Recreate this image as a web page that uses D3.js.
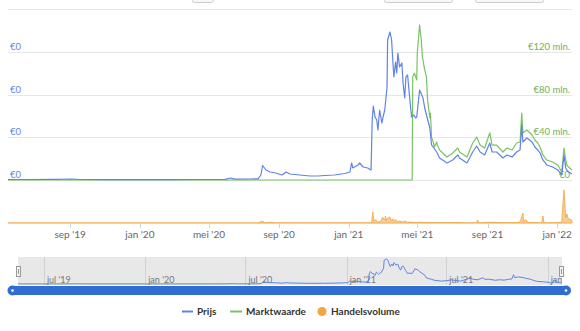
<!DOCTYPE html>
<html><head><meta charset="utf-8">
<script src="https://cdn.jsdelivr.net/npm/d3@7"></script>
<style>
html,body{margin:0;padding:0;background:#fff;}
svg{display:block;font-family:Lato,"Open Sans",sans-serif;}
</style></head>
<body><svg id="c" width="580" height="331"></svg>
<script>
// ---------- DATA ----------
const priceDates = ["2019-05-15","2019-06-22","2019-08-05","2019-09-04","2019-09-18","2019-11-09","2020-01-01","2020-02-22","2020-04-15","2020-05-29","2020-06-08","2020-06-15","2020-07-12","2020-07-26","2020-07-31","2020-08-03","2020-08-09","2020-08-16","2020-08-26","2020-09-06","2020-09-13","2020-09-20","2020-10-07","2020-10-25","2020-11-08","2020-11-20","2020-12-07","2020-12-25","2021-01-03","2021-01-06","2021-01-08","2021-01-17","2021-01-20","2021-01-26","2021-02-03","2021-02-09","2021-02-11","2021-02-13","2021-02-16","2021-02-19","2021-02-21","2021-02-24","2021-02-28","2021-03-02","2021-03-05","2021-03-09","2021-03-10","2021-03-14","2021-03-17","2021-03-19","2021-03-21","2021-03-24","2021-03-26","2021-03-28","2021-03-31","2021-04-04","2021-04-06","2021-04-09","2021-04-11","2021-04-14","2021-04-18","2021-04-21","2021-04-25","2021-04-28","2021-04-30","2021-05-05","2021-05-11","2021-05-14","2021-05-18","2021-05-23","2021-05-26","2021-05-30","2021-06-04","2021-06-09","2021-06-22","2021-07-02","2021-07-11","2021-07-14","2021-07-27","2021-08-06","2021-08-13","2021-08-19","2021-08-27","2021-09-05","2021-09-09","2021-09-17","2021-09-28","2021-10-05","2021-10-14","2021-10-22","2021-10-28","2021-10-31","2021-11-02","2021-11-09","2021-11-18","2021-11-23","2021-11-28","2021-12-02","2021-12-07","2021-12-14","2021-12-24","2022-01-02","2022-01-09","2022-01-13","2022-01-16","2022-01-18","2022-01-21","2022-01-27"];
const priceValues = [0.000012,0.000012,0.000014,0.000023,0.000012,0.000009,0.000009,0.000009,0.000012,0.000016,0.000047,0.000019,0.000023,0.000028,0.000117,0.000339,0.000234,0.000187,0.000164,0.000117,0.000187,0.000140,0.000117,0.000094,0.000094,0.000105,0.000117,0.000152,0.000187,0.000398,0.000281,0.000351,0.000398,0.000304,0.000281,0.000234,0.001404,0.001731,0.001474,0.001404,0.001170,0.001637,0.001333,0.001474,0.001637,0.002175,0.003275,0.003462,0.003275,0.002807,0.002409,0.002760,0.002503,0.002971,0.002643,0.002737,0.002269,0.001918,0.002409,0.002456,0.001871,0.001474,0.001520,0.001450,0.001474,0.002105,0.001918,0.001684,0.001474,0.001216,0.000819,0.000749,0.000655,0.000515,0.000398,0.000468,0.000585,0.000515,0.000398,0.000655,0.000795,0.000655,0.000585,0.000866,0.000655,0.000655,0.000515,0.000585,0.000538,0.000655,0.000702,0.001287,0.000889,0.000982,0.000889,0.000772,0.000702,0.000632,0.000468,0.000351,0.000304,0.000234,0.000117,0.000585,0.000281,0.000234,0.000187,0.000140];

const capDates = ["2019-05-15","2021-04-22","2021-04-23","2021-04-26","2021-04-30","2021-05-01","2021-05-05","2021-05-08","2021-05-10","2021-05-14","2021-05-17","2021-05-19","2021-05-23","2021-05-24","2021-05-26","2021-05-28","2021-05-31","2021-06-04","2021-06-05","2021-06-09","2021-06-22","2021-07-02","2021-07-11","2021-07-14","2021-07-27","2021-08-06","2021-08-13","2021-08-19","2021-08-27","2021-09-05","2021-09-09","2021-09-17","2021-09-28","2021-10-05","2021-10-14","2021-10-22","2021-10-28","2021-10-31","2021-11-02","2021-11-09","2021-11-18","2021-11-23","2021-11-28","2021-12-02","2021-12-07","2021-12-14","2021-12-24","2022-01-02","2022-01-09","2022-01-13","2022-01-16","2022-01-18","2022-01-21","2022-01-27"];
const capValues = [0,0,96.4,100,93.6,118.8,145,131,115,103,96.4,74.9,58,62.7,39.3,37.4,30.9,35.6,32.7,28.1,21.5,25.3,29.9,26.2,21.5,34.6,40.2,32.7,29.9,44,32.7,32.7,26.2,29.9,28.1,34.6,35.6,62.7,44,46.8,42.1,37.4,34.6,30.9,23.4,18.7,16.8,14,7.5,29.9,18.7,14,12.2,9.4];

const volDates = ["2019-05-15","2020-07-25","2020-08-03","2020-08-07","2020-08-19","2020-08-24","2020-12-25","2021-02-10","2021-02-12","2021-02-14","2021-02-17","2021-02-21","2021-02-26","2021-03-01","2021-03-05","2021-03-06","2021-03-08","2021-03-10","2021-03-14","2021-03-17","2021-03-19","2021-03-22","2021-03-24","2021-03-28","2021-03-31","2021-04-06","2021-04-09","2021-04-14","2021-04-18","2021-04-26","2021-05-05","2021-05-14","2021-06-09","2021-07-14","2021-07-18","2021-08-13","2021-08-15","2021-08-17","2021-09-05","2021-10-01","2021-10-26","2021-10-29","2021-11-02","2021-11-03","2021-11-07","2021-11-11","2021-12-05","2021-12-07","2021-12-09","2021-12-28","2022-01-09","2022-01-11","2022-01-13","2022-01-14","2022-01-16","2022-01-18","2022-01-21","2022-01-23","2022-01-27"];
const volValues = [0.003,0.003,0.11,0.01,0.05,0.01,0.01,0.01,0.65,0.1,0.2,0.05,0.1,0.35,0.15,0.41,0.15,0.3,0.35,0.12,0.25,0.1,0.2,0.08,0.12,0.06,0.12,0.04,0.06,0.03,0.05,0.03,0.02,0.03,0.01,0.01,0.18,0.01,0.05,0.02,0.03,0.15,0.59,0.1,0.2,0.03,0.01,0.41,0.01,0.02,0.05,1.06,1.94,1.41,0.3,0.53,0.2,0.24,0.15];

const xTickDates = ["2019-09-01","2020-01-01","2020-05-01","2020-09-01","2021-01-01","2021-05-01","2021-09-01","2022-01-01"];
const xTickLabels = ["sep '19","jan '20","mei '20","sep '20","jan '21","mei '21","sep '21","jan '22"];
const navTickDates = ["2019-07-01","2020-01-01","2020-07-01","2021-01-01","2021-07-01","2022-01-01"];
const navTickLabels = ["jul '19","jan '20","jul '20","jan '21","jul '21","jan '22"];
const capTicks = [0,40,80,120,160];
const capTickLabels = ["€0","€40 mln.","€80 mln.","€120 mln.",""];
const priceTicks = [0,0.001,0.002,0.003];
const seriesNames = ["Prijs","Marktwaarde","Handelsvolume"];

// ---------- DRAW ----------
const P = d3.utcParse("%Y-%m-%d");
const BLUE="#5f84e6", GREEN="#79c266", ORANGE="#f2a540";
const svg = d3.select("#c");
const start = P("2019-05-15"), end = P("2022-01-27");
const x = d3.scaleUtc().domain([start,end]).range([8,572]);
const yCap = d3.scaleLinear().domain([0,160]).range([180,9]);
const yPrice = d3.scaleLinear().domain([0,0.004]).range([180,9]);
const yVol = d3.scaleLinear().domain([0,2]).range([223,189]);

// top range-selector remnants
[[192,21],[384,68],[475,68]].forEach(([bx,bw])=>{
  svg.append("rect").attr("x",bx+0.5).attr("y",-14).attr("width",bw).attr("height",16.5)
    .attr("rx",2).attr("fill","#f7f7f7").attr("stroke","#cccccc");
});

// gridlines
svg.append("g").selectAll("line").data(capTicks).join("line")
  .attr("x1",8).attr("x2",572)
  .attr("y1",d=>Math.round(yCap(d))+0.5).attr("y2",d=>Math.round(yCap(d))+0.5)
  .attr("stroke","#e6e6e6");

// right labels
svg.append("g").selectAll("text").data(capTicks).join("text")
  .attr("x",570).attr("y",d=>yCap(d)-2).attr("text-anchor","end")
  .attr("font-size",9.5).attr("fill","#6fb35d").text((d,i)=>capTickLabels[i]);
// left labels
svg.append("g").selectAll("text").data(priceTicks).join("text")
  .attr("x",10).attr("y",d=>yPrice(d)-2)
  .attr("font-size",9.5).attr("fill",BLUE).text(d=>"€"+d3.format(".0f")(d));

// volume
const vol = volDates.map((d,i)=>({d:P(d),v:volValues[i]}));
svg.append("path").datum(vol)
  .attr("d",d3.area().x(d=>x(d.d)).y0(yVol(0)).y1(d=>yVol(d.v)))
  .attr("fill",ORANGE).attr("fill-opacity",0.55).attr("stroke",ORANGE).attr("stroke-width",0.8);

// x axis line
svg.append("line").attr("x1",8).attr("x2",572).attr("y1",223.5).attr("y2",223.5).attr("stroke","#ccd6eb");
const xt = xTickDates.map(P);
svg.append("g").selectAll("line").data(xt).join("line")
  .attr("x1",d=>Math.round(x(d))+0.5).attr("x2",d=>Math.round(x(d))+0.5)
  .attr("y1",223).attr("y2",228).attr("stroke","#ccd6eb");
svg.append("g").selectAll("text").data(xt).join("text")
  .attr("x",d=>x(d)).attr("y",238).attr("text-anchor","middle")
  .attr("font-size",10).attr("fill","#666").text((d,i)=>xTickLabels[i]);

// market cap line
const cap = capDates.map((d,i)=>({d:P(d),v:capValues[i]}));
svg.append("path").datum(cap)
  .attr("d",d3.line().x(d=>x(d.d)).y(d=>yCap(d.v)))
  .attr("fill","none").attr("stroke",GREEN).attr("stroke-width",1.2).attr("stroke-linejoin","round");
// price line
const price = priceDates.map((d,i)=>({d:P(d),v:priceValues[i]}));
svg.append("path").datum(price)
  .attr("d",d3.line().x(d=>x(d.d)).y(d=>yPrice(d.v)))
  .attr("fill","none").attr("stroke",BLUE).attr("stroke-width",1.2).attr("stroke-linejoin","round");

// navigator
const xN = d3.scaleUtc().domain([start,end]).range([18,562]);
const yN = d3.scaleLinear().domain([0,d3.max(priceValues)]).range([284,259]);
svg.append("defs").append("clipPath").attr("id","navclip")
  .append("rect").attr("x",18).attr("y",257).attr("width",544).attr("height",28);
svg.append("rect").attr("x",18).attr("y",257).attr("width",544).attr("height",28).attr("fill","#e8e8e8");
const nt = navTickDates.map(P);
const ng = svg.append("g").attr("clip-path","url(#navclip)");
ng.selectAll("line").data(nt).join("line")
  .attr("x1",d=>Math.round(xN(d))+0.5).attr("x2",d=>Math.round(xN(d))+0.5)
  .attr("y1",257).attr("y2",285).attr("stroke","#d2d2d2");
ng.selectAll("text").data(nt).join("text")
  .attr("x",d=>xN(d)+3).attr("y",283).attr("font-size",9).attr("fill","#777")
  .text((d,i)=>navTickLabels[i]);
ng.append("path").datum(price)
  .attr("d",d3.line().x(d=>xN(d.d)).y(d=>yN(d.v)))
  .attr("fill","none").attr("stroke",BLUE).attr("stroke-width",1);
// handles
[16,559].forEach(hx=>{
  svg.append("rect").attr("x",hx+0.5).attr("y",266.5).attr("width",4).attr("height",10)
    .attr("fill","#f2f2f2").attr("stroke","#999");
  svg.append("line").attr("x1",hx+2.5).attr("x2",hx+2.5).attr("y1",269).attr("y2",274).attr("stroke","#999");
});
// scrollbar
svg.append("rect").attr("x",12).attr("y",286).attr("width",554).attr("height",9).attr("fill","#2f6dd0");
[12.5,566].forEach(cx=>{
  svg.append("circle").attr("cx",cx).attr("cy",290.5).attr("r",5).attr("fill","#2f6dd0");
  svg.append("circle").attr("cx",cx).attr("cy",290.5).attr("r",1.3).attr("fill","#fff");
});

// legend
const lg = svg.append("g").attr("font-size",10).attr("font-weight","bold").attr("fill","#333");
lg.append("line").attr("x1",182).attr("x2",193).attr("y1",311.5).attr("y2",311.5).attr("stroke",BLUE).attr("stroke-width",2);
lg.append("text").attr("x",197).attr("y",315).text(seriesNames[0]);
lg.append("line").attr("x1",230).attr("x2",242).attr("y1",311.5).attr("y2",311.5).attr("stroke",GREEN).attr("stroke-width",2);
lg.append("text").attr("x",246).attr("y",315).text(seriesNames[1]);
lg.append("circle").attr("cx",322).attr("cy",311.5).attr("r",4.5).attr("fill",ORANGE);
lg.append("text").attr("x",331).attr("y",315).text(seriesNames[2]);
</script></body></html>
